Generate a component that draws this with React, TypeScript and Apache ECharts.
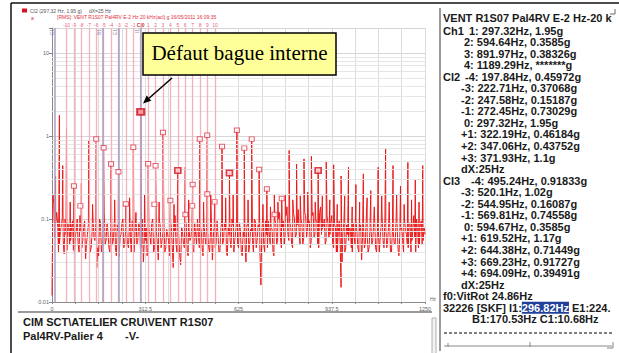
import React, { useEffect, useRef } from "react";
import * as echarts from "echarts";

// ---------- data ----------
const SPECTRUM_STEP_HZ = 6.25;
// noise floor of the spectrum, one value every 6.25 Hz from 0 to 1250 Hz (g)
const noiseFloor = [
  0.012, 0.15, 0.09, 0.09, 0.05, 0.085, 0.055, 0.1, 0.042, 0.075,
  0.055, 0.095, 0.038, 0.07, 0.05, 0.11, 0.045, 0.08, 0.033, 0.065,
  0.085, 0.045, 0.1, 0.055, 0.026, 0.036, 0.09, 0.05, 0.12, 0.055,
  0.07, 0.04, 0.095, 0.06, 0.045, 0.085, 0.035, 0.065, 0.1, 0.05,
  0.075, 0.045, 0.06, 0.095, 0.04, 0.12, 0.055, 0.08, 0.045, 0.03,
  0.055, 0.036, 0.075, 0.05, 0.1, 0.045, 0.07, 0.032, 0.085, 0.055,
  0.095, 0.045, 0.065, 0.036, 0.08, 0.026, 0.11, 0.04, 0.06, 0.028,
  0.07, 0.045, 0.09, 0.036, 0.055, 0.08, 0.04, 0.065, 0.1, 0.045,
  0.075, 0.036, 0.06, 0.095, 0.045, 0.07, 0.032, 0.085, 0.05, 0.065,
  0.04, 0.095, 0.055, 0.075, 0.036, 0.065, 0.045, 0.085, 0.055, 0.1,
  0.045, 0.075, 0.036, 0.06, 0.03, 0.085, 0.05, 0.07, 0.04, 0.095,
  0.055, 0.08, 0.016, 0.11, 0.04, 0.065, 0.095, 0.05, 0.075, 0.036,
  0.085, 0.055, 0.12, 0.045, 0.095, 0.065, 0.14, 0.055, 0.08, 0.045,
  0.1, 0.065, 0.13, 0.05, 0.085, 0.06, 0.11, 0.075, 0.095, 0.055,
  0.12, 0.065, 0.095, 0.045, 0.14, 0.075, 0.1, 0.055, 0.085, 0.065,
  0.11, 0.045, 0.08, 0.04, 0.095, 0.015, 0.07, 0.04, 0.085, 0.055,
  0.075, 0.04, 0.06, 0.095, 0.045, 0.07, 0.032, 0.085, 0.05, 0.065,
  0.045, 0.085, 0.055, 0.1, 0.04, 0.075, 0.06, 0.11, 0.045, 0.08,
  0.055, 0.095, 0.04, 0.07, 0.05, 0.09, 0.036, 0.075, 0.055, 0.1,
  0.065, 0.045, 0.085, 0.055, 0.11, 0.04, 0.075, 0.05, 0.095, 0.055,
  0.065,
];
// noise floor in between, one value every 6.25 Hz from 3.125 Hz (g)
const noiseFloorMid = [
  0.2, 0.06, 0.12, 0.04, 0.07, 0.1, 0.038, 0.065, 0.09, 0.05,
  0.08, 0.042, 0.065, 0.1, 0.04, 0.07, 0.055, 0.095, 0.05, 0.085,
  0.04, 0.07, 0.06, 0.09, 0.045, 0.1, 0.04, 0.075, 0.05, 0.09,
  0.045, 0.08, 0.05, 0.1, 0.036, 0.07, 0.06, 0.09, 0.045, 0.075,
  0.05, 0.085, 0.04, 0.07, 0.065, 0.05, 0.09, 0.04, 0.1, 0.055,
  0.08, 0.045, 0.065, 0.09, 0.04, 0.075, 0.05, 0.1, 0.045, 0.07,
  0.04, 0.075, 0.055, 0.1, 0.045, 0.07, 0.05, 0.085, 0.036, 0.08,
  0.05, 0.095, 0.04, 0.075, 0.06, 0.045, 0.09, 0.05, 0.065, 0.08,
  0.045, 0.09, 0.05, 0.07, 0.04, 0.085, 0.06, 0.045, 0.095, 0.04,
  0.075, 0.05, 0.09, 0.04, 0.08, 0.055, 0.1, 0.04, 0.07, 0.05,
  0.09, 0.04, 0.07, 0.05, 0.085, 0.04, 0.075, 0.055, 0.1, 0.045,
  0.085, 0.04, 0.07, 0.05, 0.095, 0.045, 0.065, 0.08, 0.04, 0.1,
  0.05, 0.1, 0.06, 0.08, 0.05, 0.11, 0.065, 0.09, 0.05, 0.12,
  0.06, 0.085, 0.07, 0.1, 0.05, 0.12, 0.06, 0.09, 0.045, 0.11,
  0.06, 0.095, 0.05, 0.12, 0.065, 0.085, 0.05, 0.11, 0.06, 0.09,
  0.05, 0.085, 0.04, 0.07, 0.05, 0.03, 0.09, 0.045, 0.065, 0.08,
  0.045, 0.09, 0.05, 0.07, 0.04, 0.085, 0.06, 0.045, 0.1, 0.04,
  0.075, 0.05, 0.09, 0.045, 0.07, 0.04, 0.085, 0.055, 0.1, 0.045,
  0.085, 0.04, 0.07, 0.05, 0.095, 0.045, 0.065, 0.08, 0.04, 0.075,
  0.05, 0.09, 0.04, 0.075, 0.06, 0.1, 0.045, 0.085, 0.05, 0.08,
];
// spectral lines [Hz, g]
const peaks: [number, number][] = [
  [12, 0.33], [24.86, 1.78], [36, 0.44], [48.6, 1.23], [61, 0.16], [73.5, 0.25], [98.4, 0.27],
  [123.2, 0.89], [136, 0.15], [148.1, 0.92], [173, 0.72], [197.84, 0.45972], [210, 0.17],
  [222.71, 0.37068], [247.58, 0.15187], [260, 0.18], [272.45, 0.73029], [297.32, 1.95], [310, 0.2],
  [322.19, 0.46184], [347.06, 0.43752], [359, 0.16], [371.93, 1.1], [396.8, 0.17], [409, 0.15],
  [421.7, 0.385], [446.5, 0.42], [458, 0.17], [471.4, 0.26], [495.24, 0.91833], [508, 0.16],
  [520.1, 1.02], [532, 0.2], [544.95, 0.16087], [569.81, 0.74558], [582, 0.18], [594.67, 0.3585],
  [607, 0.2], [619.52, 1.17], [644.38, 0.71449], [657, 0.17], [669.23, 0.91727], [694.09, 0.39491],
  [707, 0.15], [720.1, 0.23], [732, 0.14], [745, 0.2], [757, 0.16], [769.8, 0.18], [782, 0.2],
  [794.7, 0.67], [807, 0.17], [819.6, 0.46], [832, 0.19], [844.5, 0.53], [857, 0.21],
  [869.3, 0.57], [882, 0.16], [891.97, 0.38326], [906, 0.19], [919, 0.49], [931, 0.17],
  [943.9, 0.45], [956, 0.15], [968.8, 0.33], [981, 0.19], [993.6, 0.42], [1006, 0.14],
  [1018.5, 0.26], [1031, 0.16], [1043.4, 0.35], [1056, 0.18], [1068.3, 0.22], [1080, 0.14],
  [1093.1, 0.42], [1105, 0.19], [1118, 0.7], [1130, 0.16], [1142.9, 0.44], [1155, 0.2],
  [1167.8, 0.25], [1180, 0.15], [1192.6, 0.48], [1205, 0.17], [1217.5, 0.3], [1230, 0.16],
  [1242.4, 0.44],
];
// cursor markers [Hz, g]
const ch1Marks: [number, number][] = [[594.64, 0.3585], [891.97, 0.38326], [421.7, 0.385]];
const mainMark: [number, number][] = [[297.32, 1.95]];
const cl2Marks: [number, number][] = [
  [197.84, 0.45972], [222.71, 0.37068], [247.58, 0.15187], [272.45, 0.73029],
  [322.19, 0.46184], [347.06, 0.43752], [371.93, 1.1],
];
const cl3Marks: [number, number][] = [
  [495.24, 0.91833], [520.1, 1.02], [544.95, 0.16087], [569.81, 0.74558],
  [619.52, 1.17], [644.38, 0.71449], [669.23, 0.91727], [694.09, 0.39491],
];
const otherMarks: [number, number][] = [
  [73.5, 0.25], [95, 0.144], [148.1, 0.92], [173, 0.72], [343, 0.15], [396.8, 0.167],
  [447, 0.113], [470, 0.144], [471.4, 0.26], [520.4, 0.2], [720.1, 0.23], [746, 0.113], [769.8, 0.177],
];
const sidebandCenterHz = 297.32;
const sidebandStepHz = 24.87;
const sidebandOrders = [-10, -9, -8, -7, -6, -5, -4, -3, -2, -1, 0, 1, 2, 3, 4, 5, 6, 7, 8, 9, 10];
const cl3CenterHz = 594.67;
const f0Hz = 24.86;
const bearingLines: [string, number][] = [["C1", 10.68], ["B1", 170.53], ["E1", 224.43], ["I1", 296.82]];
const minorFactors = [2, 3, 4, 5, 6, 7, 8, 9];
const decades = [0.01, 0.1, 1];
const xLabelStep = 312.5;

const legendText = "CI2 (297.32 Hz, 1.95 g)     dX=25 Hz";
const headerText = "[RMS]: VENT R1S07 Pal4RV E-2 Hz 20 kHz(acl) g 16/05/2011 16:09:35";
const annotationText = "Défaut bague interne";
const bottomLine1 = "CIM SCT\\ATELIER CRU\\VENT R1S07";
const bottomLine2a = "Pal4RV-Palier 4";
const bottomLine2b = "-V-";
const panelTitle = "VENT R1S07 Pal4RV E-2 Hz-20 k";
const ch1Rows = ["1: 297.32Hz, 1.95g", "2: 594.64Hz, 0.3585g", "3: 891.97Hz, 0.38326g", "4: 1189.29Hz, *******g"];
const cl2Rows = [
  "-4: 197.84Hz, 0.45972g", "-3: 222.71Hz, 0.37068g", "-2: 247.58Hz, 0.15187g", "-1: 272.45Hz, 0.73029g",
  "0: 297.32Hz, 1.95g", "+1: 322.19Hz, 0.46184g", "+2: 347.06Hz, 0.43752g", "+3: 371.93Hz, 1.1g", "dX:25Hz",
];
const cl3Rows = [
  "-4: 495.24Hz, 0.91833g", "-3: 520.1Hz, 1.02g", "-2: 544.95Hz, 0.16087g", "-1: 569.81Hz, 0.74558g",
  "0: 594.67Hz, 0.3585g", "+1: 619.52Hz, 1.17g", "+2: 644.38Hz, 0.71449g", "+3: 669.23Hz, 0.91727g",
  "+4: 694.09Hz, 0.39491g", "dX:25Hz",
];
const f0Row = "f0:VitRot 24.86Hz";
const bearingRow = "32226 [SKF] I1:{h|296.82Hz} E1:224.";
const bearingRow2 = "B1:170.53Hz C1:10.68Hz";

// ---------- chart ----------
const L = (v: number) => Math.log10(v);

function buildOption() {
  const spectrum = [
    ...noiseFloor.map((v, i) => [i * SPECTRUM_STEP_HZ, v] as [number, number]),
    ...noiseFloorMid.map((v, i) => [SPECTRUM_STEP_HZ / 2 + i * SPECTRUM_STEP_HZ, v] as [number, number]),
    ...peaks,
  ]
    .sort((a, b) => a[0] - b[0])
    .map(([f, v]) => [f, L(v)]);

  const minorLines: any[] = [];
  decades.forEach((d) => minorFactors.forEach((k) => minorLines.push({ yAxis: L(k * d) })));

  const cursorLines: any[] = sidebandOrders.map((k) => ({
    xAxis: sidebandCenterHz + k * sidebandStepHz,
    name: k === 0 ? "C|0" : String(k),
    label: k === 0 ? { fontWeight: "bold", color: "#c0102a" } : undefined,
  }));
  cursorLines.push({ xAxis: f0Hz, name: "0", lineStyle: { opacity: 0 } });
  cursorLines.push({ xAxis: cl3CenterHz, name: "CI3", lineStyle: { opacity: 0 } });

  const font = "Liberation Sans, Arial, sans-serif";
  const panelFont = "bold 11px 'Liberation Sans', Arial, sans-serif";

  const rows: { tag: string; text: string; rich?: boolean }[] = [];
  ch1Rows.forEach((t, i) => rows.push({ tag: i === 0 ? "Ch1" : "", text: t }));
  cl2Rows.forEach((t, i) => rows.push({ tag: i === 0 ? "CI2" : "", text: t }));
  cl3Rows.forEach((t, i) => rows.push({ tag: i === 0 ? "CI3" : "", text: t }));
  rows.push({ tag: "*", text: f0Row });
  rows.push({ tag: "*", text: bearingRow, rich: true });
  rows.push({ tag: "B", text: bearingRow2 });

  const bodyX = (tag: string, text: string) => {
    if (tag === "Ch1") return 469;
    if (tag === "CI2") return 465;
    if (tag === "CI3") return 471;
    if (tag === "*") return 443;
    if (tag === "B") return 472;
    if (text[0] === "+" || text[0] === "-" || text.startsWith("dX")) return 461;
    return 464;
  };

  const panelTexts: any[] = [
    {
      type: "text", x: 443, y: 17.5,
      style: { text: panelTitle, font: panelFont, fill: "#1a1a1a", verticalAlign: "middle", textVerticalAlign: "middle" },
    },
  ];
  rows.forEach((r, i) => {
    const y = 30.5 + i * 11.55;
    if (r.tag === "Ch1" || r.tag === "CI2" || r.tag === "CI3") {
      panelTexts.push({
        type: "text", x: 443, y,
        style: { text: r.tag, font: panelFont, fill: "#1a1a1a", verticalAlign: "middle", textVerticalAlign: "middle" },
      });
    }
    panelTexts.push({
      type: "text", x: bodyX(r.tag, r.text), y,
      style: {
        text: r.text, font: panelFont, fill: "#1a1a1a", verticalAlign: "middle", textVerticalAlign: "middle",
        rich: r.rich
          ? { h: { font: panelFont, fill: "#ffffff", color: "#ffffff", backgroundColor: "#22409a", padding: [1, 0, 0, 0] } }
          : undefined,
      },
    });
  });

  const scatterBase = { type: "scatter", symbol: "rect", z: 5, silent: true };

  return {
    animation: false,
    backgroundColor: "#ffffff",
    grid: { left: 52, top: 28, right: 194, bottom: 51 },
    xAxis: {
      type: "value", min: 0, max: 1250, interval: 78.125,
      name: "Hz", nameLocation: "end", nameGap: 5,
      nameTextStyle: { fontSize: 5, color: "#666", fontFamily: font, verticalAlign: "bottom", padding: [0, 0, 1, 0] },
      axisLine: { show: true, onZero: false, lineStyle: { color: "#8a8a8a", width: 1 } },
      axisTick: { show: true, length: 2, lineStyle: { color: "#8a8a8a" } },
      axisLabel: {
        fontSize: 5.5, color: "#666", fontFamily: font, margin: 4,
        formatter: (v: number) => (Math.abs(v / xLabelStep - Math.round(v / xLabelStep)) < 1e-6 ? String(v) : ""),
      },
      splitLine: { show: true, lineStyle: { color: "#dcdcdc", width: 1 } },
    },
    yAxis: {
      type: "value", min: -2, max: L(20), interval: 1,
      axisLine: { show: true, onZero: false, lineStyle: { color: "#8a8a8a", width: 1 } },
      axisTick: { show: true, length: 3, lineStyle: { color: "#8a8a8a" } },
      axisLabel: {
        fontSize: 5.5, color: "#666", fontFamily: font, margin: 3,
        formatter: (v: number) => (Math.abs(v - Math.round(v)) < 1e-6 ? String(Math.pow(10, Math.round(v))) : ""),
      },
      splitLine: { show: true, lineStyle: { color: "#d6d6d6", width: 1 } },
    },
    series: [
      {
        type: "line", data: [], silent: true, z: 0,
        markLine: {
          silent: true, symbol: ["none", "none"], animation: false,
          label: { show: false },
          lineStyle: { color: "#e6e6e6", width: 1, type: "solid" },
          data: minorLines,
        },
      },
      {
        type: "line", data: [], silent: true, z: 1,
        markLine: {
          silent: true, symbol: ["none", "none"], animation: false,
          label: {
            show: true, position: "end", formatter: "{b}", fontSize: 5, color: "#e0485e",
            fontFamily: font, distance: 1,
          },
          lineStyle: { color: "#f6a9b5", width: 1.3, type: "solid", opacity: 0.9 },
          data: cursorLines,
        },
      },
      {
        type: "line", data: [], silent: true, z: 1,
        markLine: {
          silent: true, symbol: ["none", "none"], animation: false,
          label: {
            show: true, position: "insideEndTop", formatter: "{b}", fontSize: 5, color: "#8a7fa8",
            fontFamily: font, distance: 1,
          },
          lineStyle: { color: "#aaa0c4", width: 1.5, type: "solid" },
          data: bearingLines.map(([n, f]) => ({ xAxis: f, name: n })),
        },
      },
      {
        type: "line", data: spectrum, showSymbol: false, symbol: "none", silent: true, z: 3,
        lineStyle: { color: "#ec1a1a", width: 1 },
      },
      {
        ...scatterBase, data: [...cl2Marks, ...cl3Marks, ...otherMarks].map(([f, v]) => [f, L(v)]),
        symbolSize: [5, 4.5],
        itemStyle: { color: "#ffffff", borderColor: "#e0384c", borderWidth: 1 },
      },
      {
        ...scatterBase, data: ch1Marks.map(([f, v]) => [f, L(v)]), symbolSize: [6, 5.5],
        itemStyle: { color: "#ffd0d0", borderColor: "#d41020", borderWidth: 1.6 },
      },
      {
        ...scatterBase, data: mainMark.map(([f, v]) => [f, L(v)]), symbolSize: [7, 6],
        itemStyle: { color: "#ff9090", borderColor: "#d01020", borderWidth: 2 },
      },
    ],
    graphic: [
      { type: "line", silent: true, shape: { x1: 11, y1: 3, x2: 619, y2: 3 }, style: { stroke: "#111", lineWidth: 1.5 } },
      { type: "line", silent: true, shape: { x1: 11, y1: 3, x2: 11, y2: 353 }, style: { stroke: "#111", lineWidth: 1.5 } },
      { type: "line", silent: true, shape: { x1: 18, y1: 312, x2: 432, y2: 312 }, style: { stroke: "#9a9a9a", lineWidth: 2 } },
      { type: "rect", silent: true, shape: { x: 432, y: 318, width: 4, height: 36 }, style: { stroke: "#b0b0b0", fill: "#f2f2f2", lineWidth: 1 } },
      { type: "line", silent: true, shape: { x1: 440, y1: 8, x2: 440, y2: 351 }, style: { stroke: "#9a9a9a", lineWidth: 2 } },
      { type: "polyline", silent: true, shape: { points: [[610, 14], [615, 14], [615, 9]] }, style: { stroke: "#666", lineWidth: 1, fill: null } },
      { type: "line", silent: true, shape: { x1: 444, y1: 333, x2: 614, y2: 333 }, style: { stroke: "#555", lineWidth: 1.5, lineDash: [3, 2] } },
      { type: "line", silent: true, shape: { x1: 444, y1: 346, x2: 612, y2: 346 }, style: { stroke: "#888", lineWidth: 1 } },
      { type: "line", silent: true, shape: { x1: 448, y1: 343, x2: 448, y2: 347 }, style: { stroke: "#888", lineWidth: 1 } },
      { type: "line", silent: true, shape: { x1: 530, y1: 342, x2: 530, y2: 347 }, style: { stroke: "#888", lineWidth: 1 } },
      { type: "polyline", silent: true, shape: { points: [[607, 348], [613, 348], [613, 342]] }, style: { stroke: "#888", lineWidth: 1, fill: null } },
      { type: "rect", silent: true, shape: { x: 22, y: 8.5, width: 5, height: 4 }, style: { fill: "#d81020" } },
      { type: "text", silent: true, x: 30, y: 10.5, style: { text: legendText, font: `5px ${font}`, fill: "#555", verticalAlign: "middle", textVerticalAlign: "middle" } },
      { type: "text", silent: true, x: 31, y: 17.5, style: { text: "a", font: `5px ${font}`, fill: "#e03040", verticalAlign: "middle", textVerticalAlign: "middle" } },
      { type: "text", silent: true, x: 57, y: 16.5, style: { text: headerText, font: `5px ${font}`, fill: "#e03040", verticalAlign: "middle", textVerticalAlign: "middle" } },
      { type: "rect", z: 100, silent: true, shape: { x: 143, y: 33, width: 193, height: 42 }, style: { fill: "#ffff99", stroke: "#000", lineWidth: 1.5 } },
      { type: "text", z: 101, silent: true, x: 239.5, y: 52.5, style: { text: annotationText, font: "21px 'Liberation Serif', 'Times New Roman', serif", fill: "#000", align: "center", textAlign: "center", verticalAlign: "middle", textVerticalAlign: "middle" } },
      { type: "line", z: 100, silent: true, shape: { x1: 172, y1: 78, x2: 149, y2: 98.2 }, style: { stroke: "#000", lineWidth: 1.5 } },
      { type: "polygon", z: 100, silent: true, shape: { points: [[143, 103.5], [151.3, 100.8], [146.7, 95.6]] }, style: { fill: "#000" } },
      { type: "text", silent: true, x: 23, y: 321.5, style: { text: bottomLine1, font: "bold 11px 'Liberation Sans', Arial, sans-serif", fill: "#1a1a1a", verticalAlign: "middle", textVerticalAlign: "middle" } },
      { type: "text", silent: true, x: 23, y: 335.5, style: { text: bottomLine2a, font: "bold 11px 'Liberation Sans', Arial, sans-serif", fill: "#1a1a1a", verticalAlign: "middle", textVerticalAlign: "middle" } },
      { type: "text", silent: true, x: 125, y: 335.5, style: { text: bottomLine2b, font: "bold 11px 'Liberation Sans', Arial, sans-serif", fill: "#1a1a1a", verticalAlign: "middle", textVerticalAlign: "middle" } },
      ...panelTexts,
    ],
  };
}

export default function App() {
  const ref = useRef<HTMLDivElement>(null);
  useEffect(() => {
    if (!ref.current) return;
    const chart = echarts.init(ref.current, undefined, { renderer: "svg" });
    chart.setOption(buildOption() as any);
    return () => chart.dispose();
  }, []);
  return (
    <div
      ref={ref}
      style={{ position: "fixed", left: 0, top: 0, width: 619, height: 353, background: "#fff" }}
    />
  );
}
